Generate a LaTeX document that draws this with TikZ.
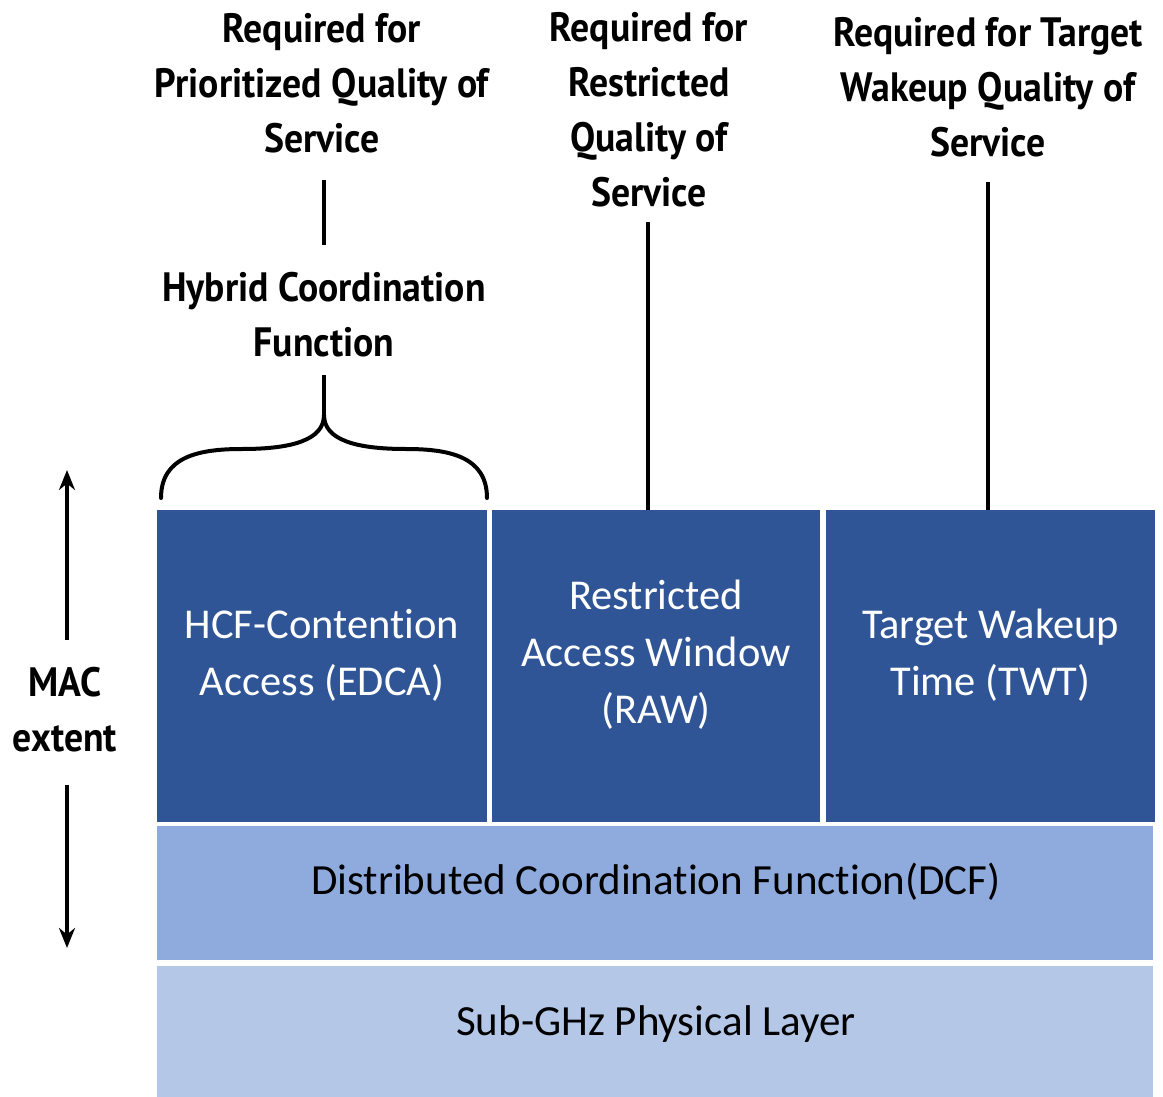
\documentclass[tikz,border=0pt]{standalone}
\usepackage{fontspec}
\setmainfont[Ligatures=NoCommon]{Carlito}
\newfontfamily\headfont[FakeStretch=0.92, Ligatures=NoCommon]{PT Sans}
\usetikzlibrary{arrows.meta}
\definecolor{macblue}{HTML}{2F5597}
\definecolor{dcfblue}{HTML}{8FAADC}
\definecolor{phyblue}{HTML}{B4C7E7}
\tikzset{
  heading/.style={font=\headfont\bfseries\fontsize{41}{55}\selectfont, align=center, inner sep=0pt},
  feature/.style={fill=macblue, draw=none, minimum height=312pt, inner sep=0pt},
  featuretext/.style={font=\fontsize{42.5}{57}\selectfont, text=white, align=center, inner sep=0pt},
  layer/.style={draw=none, minimum width=996pt, inner sep=0pt},
  layertext/.style={font=\fontsize{43}{57}\selectfont, text=black, inner sep=0pt},
  wire/.style={line width=4pt, black},
  extent/.style={line width=4pt, black, -{Stealth[length=20pt, width=16pt]}}
}
\begin{document}
\begin{tikzpicture}[x=1pt, y=-1pt]
  \useasboundingbox[fill=white] (0,0) rectangle (1163,1097);

  % MAC feature blocks
  \node[feature, minimum width=330pt] (edca) at (322,666) {};
  \node[feature, minimum width=328pt] (raw)  at (656,666) {};
  \node[feature, minimum width=329pt] (twt)  at (990.5,666) {};
  \node[featuretext] (edcat) at (322,655) {HCF-Contention\\Access (EDCA)};
  \node[featuretext] (rawt)  at (656,655) {Restricted\\Access Window\\(RAW)};
  \node[featuretext] (twtt)  at (990.5,655) {Target Wakeup\\Time (TWT)};

  % Lower layers
  \node[layer, fill=dcfblue, minimum height=134pt] (dcf) at (655,893) {};
  \node[layertext] (dcft) at (656,882) {Distributed Coordination Function(DCF)};
  \node[layer, fill=phyblue, minimum height=131pt] (phy) at (655,1031.5) {};
  \node[layertext] (phyt) at (656,1024) {Sub-GHz Physical Layer};

  % Headings
  \node[heading] (pq) at (322,83) {Required for\\Prioritized Quality of\\Service};
  \node[heading] (rq) at (649,110) {Required for\\Restricted\\Quality of\\Service};
  \node[heading] (tq) at (988,87) {Required for Target\\Wakeup Quality of\\Service};
  \node[heading] (hcf) at (324,315) {Hybrid Coordination\\Function};

  % MAC extent marker
  \node[heading] (mac) at (65,710) {MAC\\extent};
  \coordinate (macup) at (67,470);
  \coordinate (macdown) at (67,948);
  \draw[extent] (67,640) -- (macup);
  \draw[extent] (67,785) -- (macdown);

  % Connectors
  \coordinate (pqfoot) at (324,180);
  \coordinate (hcfhead) at (324,245);
  \draw[wire] (pqfoot) -- (hcfhead);
  \coordinate (rqfoot) at (648,222);
  \draw[wire] (rqfoot) -- (648,0 |- raw.north);
  \coordinate (tqfoot) at (988,182);
  \draw[wire] (tqfoot) -- (988,0 |- twt.north);

  % Brace over the EDCA block
  \coordinate (hcffoot) at (324,375);
  \coordinate (bracetip) at (324,415);
  \draw[line width=4pt, line cap=round]
    (161,498) .. controls (161,456) and (200,449) .. (242,449)
    .. controls (292,449) and (324,440) .. (bracetip)
    .. controls (324,440) and (356,449) .. (406,449)
    .. controls (448,449) and (487,456) .. (487,498);
  \draw[wire] (bracetip) -- (hcffoot);
\end{tikzpicture}
\end{document}
